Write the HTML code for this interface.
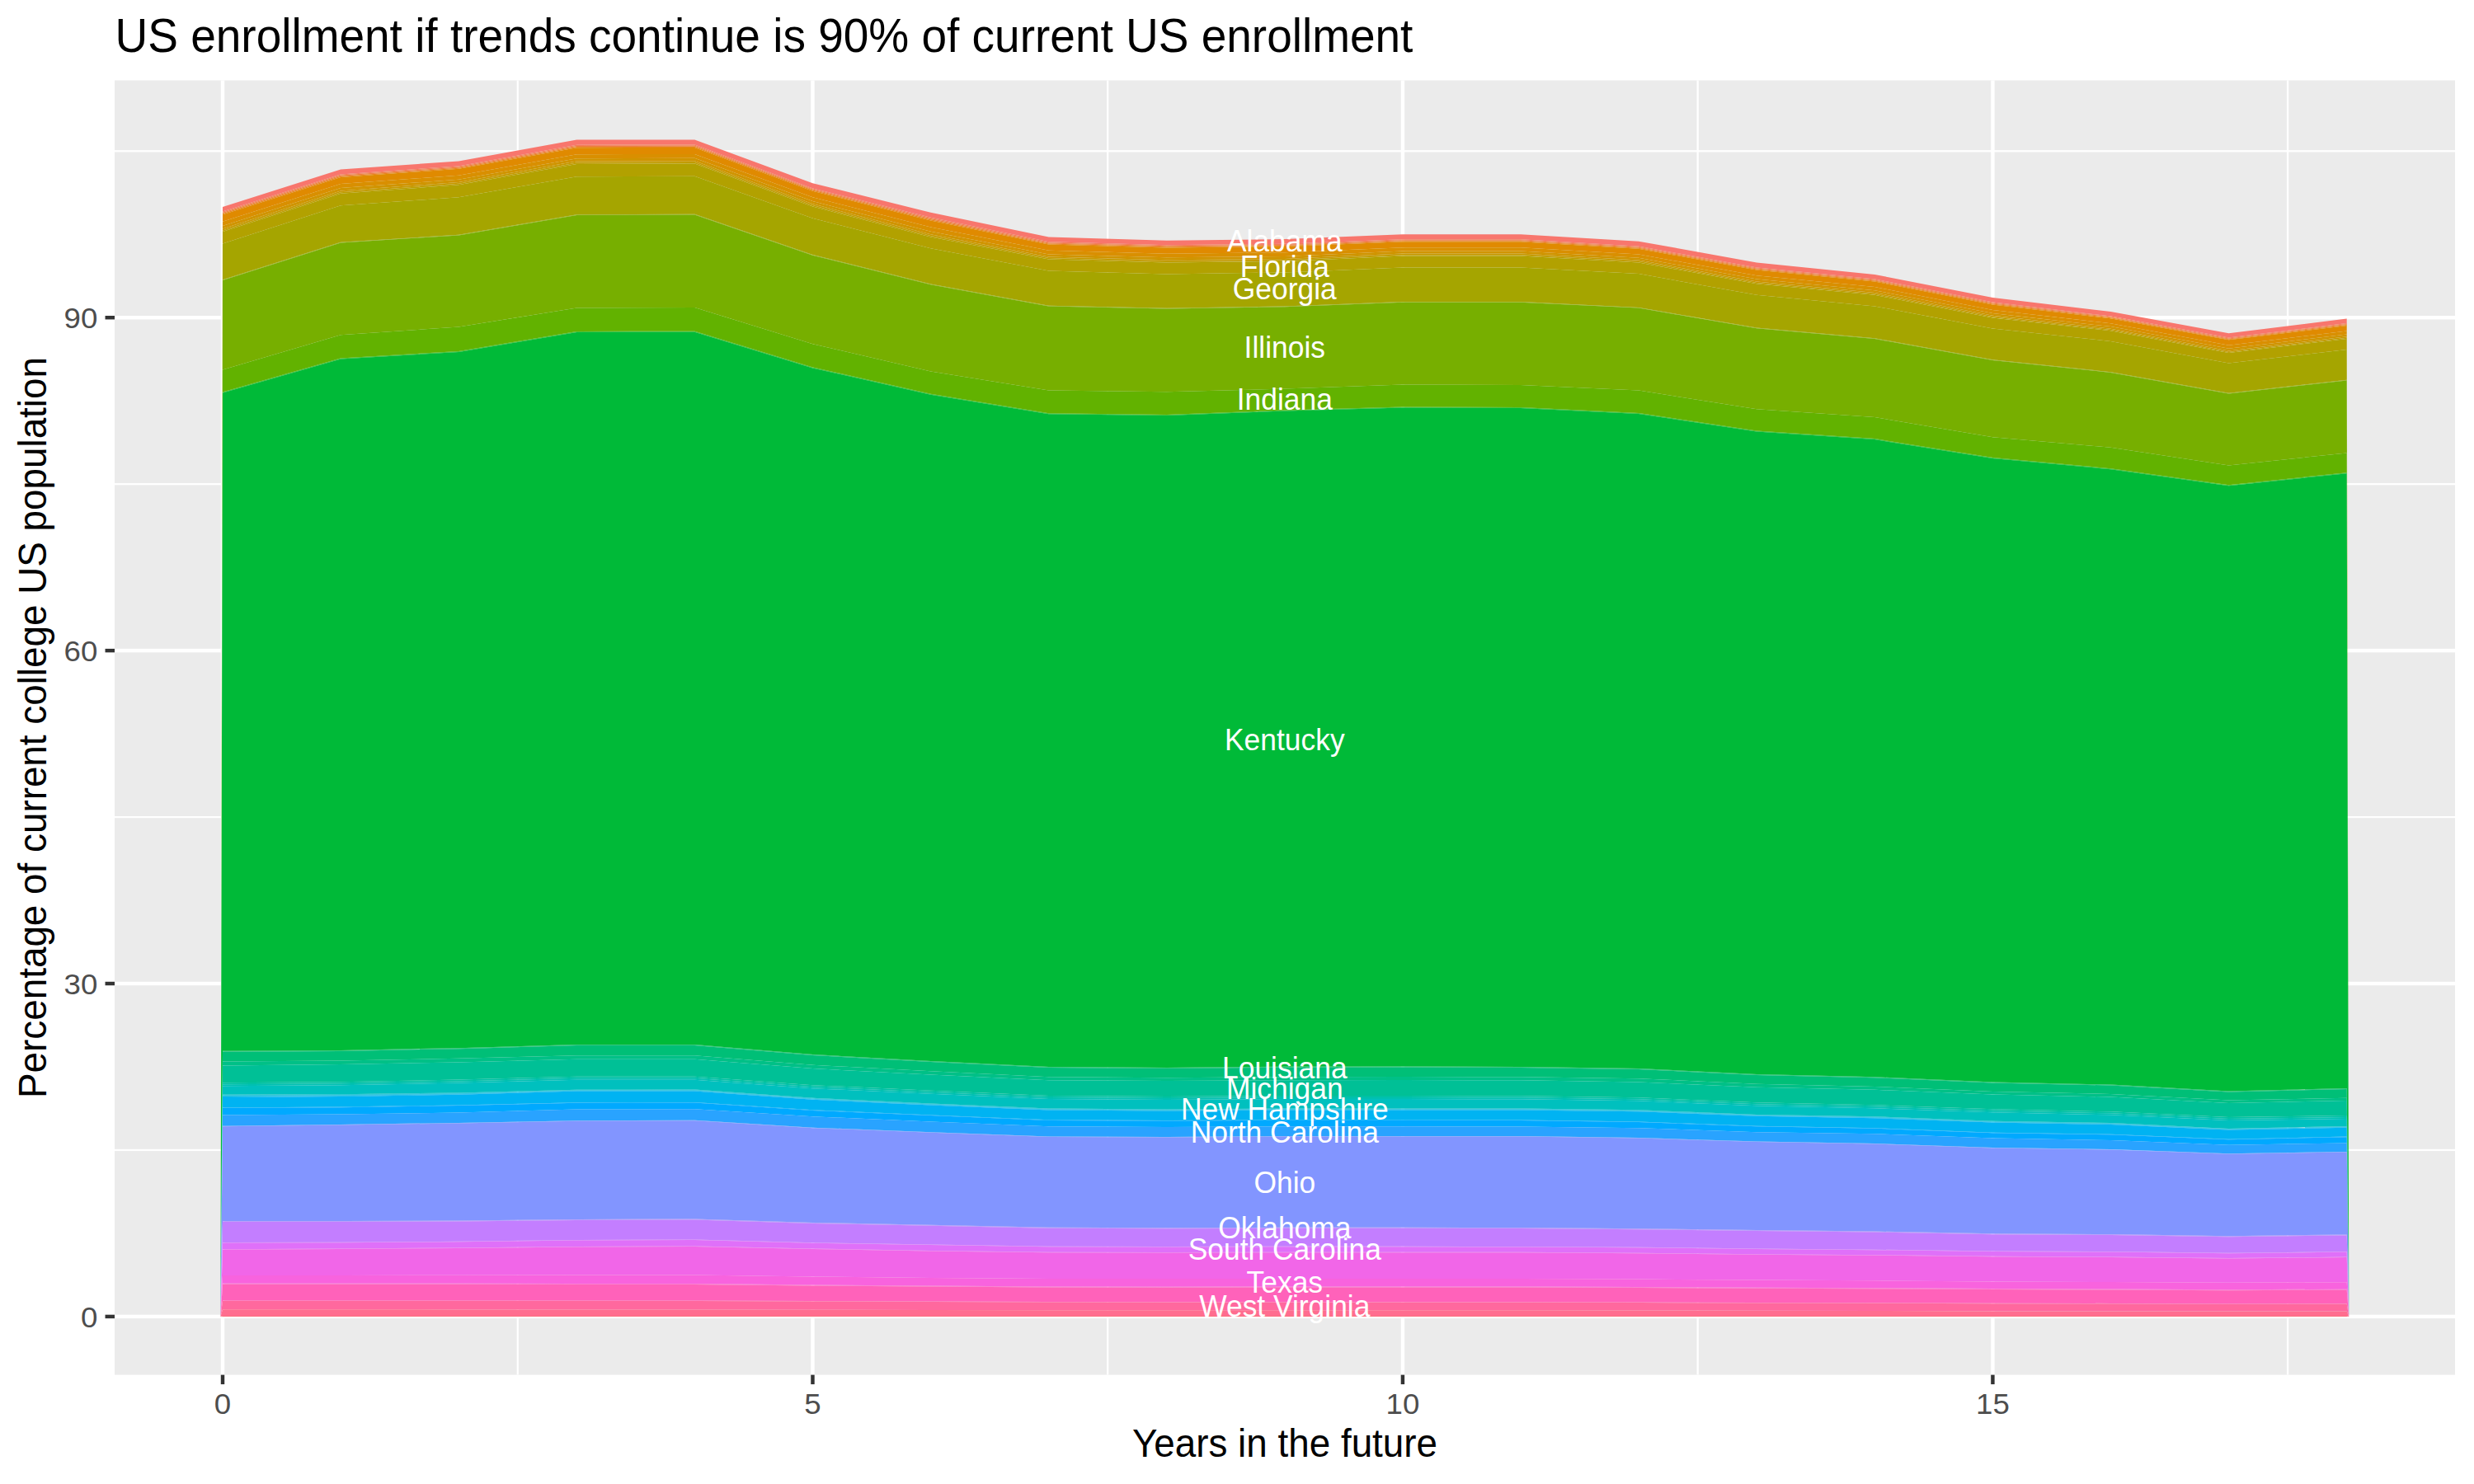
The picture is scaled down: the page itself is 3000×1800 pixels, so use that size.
<!DOCTYPE html>
<html lang="en"><head><meta charset="utf-8"><title>US enrollment if trends continue</title>
<style>html,body{margin:0;padding:0;background:#fff}body{width:3000px;height:1800px;overflow:hidden}svg{display:block}</style></head>
<body>
<svg width="3000" height="1800" viewBox="0 0 3000 1800">
<rect width="3000" height="1800" fill="#FFFFFF"/>
<rect x="139.0" y="97.5" width="2838.0" height="1570.1" fill="#EBEBEB"/>
<rect x="139.0" y="1393.85" width="2838.0" height="2.22" fill="#FFFFFF"/>
<rect x="139.0" y="989.96" width="2838.0" height="2.22" fill="#FFFFFF"/>
<rect x="139.0" y="586.07" width="2838.0" height="2.22" fill="#FFFFFF"/>
<rect x="139.0" y="182.18" width="2838.0" height="2.22" fill="#FFFFFF"/>
<rect x="626.63" y="97.5" width="2.22" height="1570.1" fill="#FFFFFF"/>
<rect x="1342.10" y="97.5" width="2.22" height="1570.1" fill="#FFFFFF"/>
<rect x="2057.57" y="97.5" width="2.22" height="1570.1" fill="#FFFFFF"/>
<rect x="2773.04" y="97.5" width="2.22" height="1570.1" fill="#FFFFFF"/>
<rect x="139.0" y="1594.68" width="2838.0" height="4.44" fill="#FFFFFF"/>
<rect x="139.0" y="1190.79" width="2838.0" height="4.44" fill="#FFFFFF"/>
<rect x="139.0" y="786.90" width="2838.0" height="4.44" fill="#FFFFFF"/>
<rect x="139.0" y="383.01" width="2838.0" height="4.44" fill="#FFFFFF"/>
<rect x="267.78" y="97.5" width="4.44" height="1570.1" fill="#FFFFFF"/>
<rect x="983.25" y="97.5" width="4.44" height="1570.1" fill="#FFFFFF"/>
<rect x="1698.72" y="97.5" width="4.44" height="1570.1" fill="#FFFFFF"/>
<rect x="2414.20" y="97.5" width="4.44" height="1570.1" fill="#FFFFFF"/>
<g shape-rendering="auto">
<polygon fill="#F8766D" points="267.4,1596.9 270.0,251.0 413.1,205.5 556.2,195.4 699.3,169.4 842.4,169.4 985.5,222.2 1128.6,257.8 1271.7,287.6 1414.8,291.7 1557.8,290.0 1700.9,284.2 1844.0,284.2 1987.1,292.7 2130.2,318.4 2273.3,333.0 2416.4,360.9 2559.5,378.0 2702.6,404.2 2845.7,386.6 2848.3,1596.9 2845.7,392.1 2702.6,409.5 2559.5,383.5 2416.4,366.5 2273.3,338.6 2130.2,324.5 1987.1,298.7 1844.0,290.3 1700.9,290.3 1557.8,295.8 1414.8,297.2 1271.7,293.3 1128.6,263.8 985.5,228.4 842.4,175.5 699.3,175.7 556.2,201.4 413.1,211.4 270.0,256.6"/>
<polygon fill="#F37B59" points="267.4,1596.9 270.0,256.6 413.1,211.4 556.2,201.4 699.3,175.7 842.4,175.5 985.5,228.4 1128.6,263.8 1271.7,293.3 1414.8,297.2 1557.8,295.8 1700.9,290.3 1844.0,290.3 1987.1,298.7 2130.2,324.5 2273.3,338.6 2416.4,366.5 2559.5,383.5 2702.6,409.5 2845.7,392.1 2848.3,1596.9 2845.7,393.0 2702.6,410.4 2559.5,384.4 2416.4,367.4 2273.3,339.6 2130.2,325.5 1987.1,299.7 1844.0,291.3 1700.9,291.3 1557.8,296.9 1414.8,298.3 1271.7,294.4 1128.6,265.0 985.5,229.5 842.4,176.7 699.3,176.9 556.2,202.5 413.1,212.6 270.0,257.8"/>
<polygon fill="#EE8042" points="267.4,1596.9 270.0,257.8 413.1,212.6 556.2,202.5 699.3,176.9 842.4,176.7 985.5,229.5 1128.6,265.0 1271.7,294.4 1414.8,298.3 1557.8,296.9 1700.9,291.3 1844.0,291.3 1987.1,299.7 2130.2,325.5 2273.3,339.6 2416.4,367.4 2559.5,384.4 2702.6,410.4 2845.7,393.0 2848.3,1596.9 2845.7,394.0 2702.6,411.4 2559.5,385.3 2416.4,368.4 2273.3,340.5 2130.2,326.5 1987.1,300.7 1844.0,292.3 1700.9,292.3 1557.8,297.9 1414.8,299.3 1271.7,295.4 1128.6,266.2 985.5,230.6 842.4,177.8 699.3,178.0 556.2,203.7 413.1,213.7 270.0,259.0"/>
<polygon fill="#E7851E" points="267.4,1596.9 270.0,259.0 413.1,213.7 556.2,203.7 699.3,178.0 842.4,177.8 985.5,230.6 1128.6,266.2 1271.7,295.4 1414.8,299.3 1557.8,297.9 1700.9,292.3 1844.0,292.3 1987.1,300.7 2130.2,326.5 2273.3,340.5 2416.4,368.4 2559.5,385.3 2702.6,411.4 2845.7,394.0 2848.3,1596.9 2845.7,394.9 2702.6,412.3 2559.5,386.2 2416.4,369.4 2273.3,341.5 2130.2,327.5 1987.1,301.7 1844.0,293.3 1700.9,293.3 1557.8,299.0 1414.8,300.4 1271.7,296.5 1128.6,267.4 985.5,231.7 842.4,178.9 699.3,179.2 556.2,204.8 413.1,214.9 270.0,260.3"/>
<polygon fill="#E08A00" points="267.4,1596.9 270.0,260.3 413.1,214.9 556.2,204.8 699.3,179.2 842.4,178.9 985.5,231.7 1128.6,267.4 1271.7,296.5 1414.8,300.4 1557.8,299.0 1700.9,293.3 1844.0,293.3 1987.1,301.7 2130.2,327.5 2273.3,341.5 2416.4,369.4 2559.5,386.2 2702.6,412.3 2845.7,394.9 2848.3,1596.9 2845.7,401.4 2702.6,418.7 2559.5,392.3 2416.4,375.9 2273.3,348.1 2130.2,334.3 1987.1,308.5 1844.0,300.3 1700.9,300.3 1557.8,306.3 1414.8,307.7 1271.7,303.8 1128.6,275.6 985.5,239.3 842.4,186.9 699.3,187.2 556.2,212.7 413.1,223.0 270.0,268.7"/>
<polygon fill="#D98F00" points="267.4,1596.9 270.0,268.7 413.1,223.0 556.2,212.7 699.3,187.2 842.4,186.9 985.5,239.3 1128.6,275.6 1271.7,303.8 1414.8,307.7 1557.8,306.3 1700.9,300.3 1844.0,300.3 1987.1,308.5 2130.2,334.3 2273.3,348.1 2416.4,375.9 2559.5,392.3 2702.6,418.7 2845.7,401.4 2848.3,1596.9 2845.7,405.4 2702.6,422.7 2559.5,396.1 2416.4,380.0 2273.3,352.2 2130.2,338.6 1987.1,312.7 1844.0,304.6 1700.9,304.6 1557.8,310.9 1414.8,312.3 1271.7,308.4 1128.6,280.7 985.5,244.1 842.4,191.8 699.3,192.2 556.2,217.7 413.1,228.0 270.0,273.9"/>
<polygon fill="#D09400" points="267.4,1596.9 270.0,273.9 413.1,228.0 556.2,217.7 699.3,192.2 842.4,191.8 985.5,244.1 1128.6,280.7 1271.7,308.4 1414.8,312.3 1557.8,310.9 1700.9,304.6 1844.0,304.6 1987.1,312.7 2130.2,338.6 2273.3,352.2 2416.4,380.0 2559.5,396.1 2702.6,422.7 2845.7,405.4 2848.3,1596.9 2845.7,408.2 2702.6,425.4 2559.5,398.7 2416.4,382.8 2273.3,355.0 2130.2,341.4 1987.1,315.6 1844.0,307.6 1700.9,307.6 1557.8,313.9 1414.8,315.3 1271.7,311.4 1128.6,284.2 985.5,247.3 842.4,195.2 699.3,195.6 556.2,221.0 413.1,231.4 270.0,277.5"/>
<polygon fill="#C79800" points="267.4,1596.9 270.0,277.5 413.1,231.4 556.2,221.0 699.3,195.6 842.4,195.2 985.5,247.3 1128.6,284.2 1271.7,311.4 1414.8,315.3 1557.8,313.9 1700.9,307.6 1844.0,307.6 1987.1,315.6 2130.2,341.4 2273.3,355.0 2416.4,382.8 2559.5,398.7 2702.6,425.4 2845.7,408.2 2848.3,1596.9 2845.7,409.7 2702.6,426.9 2559.5,400.1 2416.4,384.3 2273.3,356.6 2130.2,343.0 1987.1,317.1 1844.0,309.2 1700.9,309.2 1557.8,315.6 1414.8,317.0 1271.7,313.1 1128.6,286.1 985.5,249.1 842.4,197.0 699.3,197.5 556.2,222.8 413.1,233.3 270.0,279.4"/>
<polygon fill="#BD9D00" points="267.4,1596.9 270.0,279.4 413.1,233.3 556.2,222.8 699.3,197.5 842.4,197.0 985.5,249.1 1128.6,286.1 1271.7,313.1 1414.8,317.0 1557.8,315.6 1700.9,309.2 1844.0,309.2 1987.1,317.1 2130.2,343.0 2273.3,356.6 2416.4,384.3 2559.5,400.1 2702.6,426.9 2845.7,409.7 2848.3,1596.9 2845.7,410.9 2702.6,428.1 2559.5,401.2 2416.4,385.5 2273.3,357.8 2130.2,344.3 1987.1,318.4 1844.0,310.5 1700.9,310.5 1557.8,317.0 1414.8,318.4 1271.7,314.5 1128.6,287.6 985.5,250.5 842.4,198.5 699.3,199.0 556.2,224.3 413.1,234.8 270.0,281.0"/>
<polygon fill="#B2A100" points="267.4,1596.9 270.0,281.0 413.1,234.8 556.2,224.3 699.3,199.0 842.4,198.5 985.5,250.5 1128.6,287.6 1271.7,314.5 1414.8,318.4 1557.8,317.0 1700.9,310.5 1844.0,310.5 1987.1,318.4 2130.2,344.3 2273.3,357.8 2416.4,385.5 2559.5,401.2 2702.6,428.1 2845.7,410.9 2848.3,1596.9 2845.7,424.0 2702.6,440.4 2559.5,413.9 2416.4,398.5 2273.3,371.4 2130.2,357.8 1987.1,332.1 1844.0,324.6 1700.9,324.4 1557.8,330.4 1414.8,332.5 1271.7,328.5 1128.6,301.2 985.5,264.8 842.4,213.7 699.3,214.3 556.2,239.3 413.1,249.2 270.0,295.6"/>
<polygon fill="#A5A500" points="267.4,1596.9 270.0,295.6 413.1,249.2 556.2,239.3 699.3,214.3 842.4,213.7 985.5,264.8 1128.6,301.2 1271.7,328.5 1414.8,332.5 1557.8,330.4 1700.9,324.4 1844.0,324.6 1987.1,332.1 2130.2,357.8 2273.3,371.4 2416.4,398.5 2559.5,413.9 2702.6,440.4 2845.7,424.0 2848.3,1596.9 2845.7,460.7 2702.6,476.7 2559.5,451.2 2416.4,436.2 2273.3,410.3 2130.2,397.6 1987.1,372.9 1844.0,366.0 1700.9,366.0 1557.8,371.5 1414.8,373.7 1271.7,370.8 1128.6,344.5 985.5,309.0 842.4,259.7 699.3,260.3 556.2,284.7 413.1,293.8 270.0,339.3"/>
<polygon fill="#98A800" points="267.4,1596.9 270.0,339.3 413.1,293.8 556.2,284.7 699.3,260.3 842.4,259.7 985.5,309.0 1128.6,344.5 1271.7,370.8 1414.8,373.7 1557.8,371.5 1700.9,366.0 1844.0,366.0 1987.1,372.9 2130.2,397.6 2273.3,410.3 2416.4,436.2 2559.5,451.2 2702.6,476.7 2845.7,460.7 2848.3,1596.9 2845.7,461.0 2702.6,477.0 2559.5,451.5 2416.4,436.5 2273.3,410.6 2130.2,397.9 1987.1,373.2 1844.0,366.3 1700.9,366.3 1557.8,371.8 1414.8,374.0 1271.7,371.1 1128.6,344.8 985.5,309.3 842.4,260.0 699.3,260.6 556.2,285.0 413.1,294.1 270.0,339.6"/>
<polygon fill="#89AC00" points="267.4,1596.9 270.0,339.6 413.1,294.1 556.2,285.0 699.3,260.6 842.4,260.0 985.5,309.3 1128.6,344.8 1271.7,371.1 1414.8,374.0 1557.8,371.8 1700.9,366.3 1844.0,366.3 1987.1,373.2 2130.2,397.9 2273.3,410.6 2416.4,436.5 2559.5,451.5 2702.6,477.0 2845.7,461.0 2848.3,1596.9 2845.7,461.4 2702.6,477.4 2559.5,451.9 2416.4,436.9 2273.3,411.0 2130.2,398.3 1987.1,373.6 1844.0,366.7 1700.9,366.7 1557.8,372.2 1414.8,374.4 1271.7,371.5 1128.6,345.2 985.5,309.7 842.4,260.4 699.3,261.0 556.2,285.4 413.1,294.5 270.0,340.0"/>
<polygon fill="#77AF00" points="267.4,1596.9 270.0,340.0 413.1,294.5 556.2,285.4 699.3,261.0 842.4,260.4 985.5,309.7 1128.6,345.2 1271.7,371.5 1414.8,374.4 1557.8,372.2 1700.9,366.7 1844.0,366.7 1987.1,373.6 2130.2,398.3 2273.3,411.0 2416.4,436.9 2559.5,451.9 2702.6,477.4 2845.7,461.4 2848.3,1596.9 2845.7,549.4 2702.6,564.5 2559.5,542.7 2416.4,530.3 2273.3,506.0 2130.2,496.3 1987.1,473.6 1844.0,467.0 1700.9,466.6 1557.8,471.6 1414.8,475.2 1271.7,473.6 1128.6,450.4 985.5,417.3 842.4,373.0 699.3,373.4 556.2,396.6 413.1,406.3 270.0,448.5"/>
<polygon fill="#62B200" points="267.4,1596.9 270.0,448.5 413.1,406.3 556.2,396.6 699.3,373.4 842.4,373.0 985.5,417.3 1128.6,450.4 1271.7,473.6 1414.8,475.2 1557.8,471.6 1700.9,466.6 1844.0,467.0 1987.1,473.6 2130.2,496.3 2273.3,506.0 2416.4,530.3 2559.5,542.7 2702.6,564.5 2845.7,549.4 2848.3,1596.9 2845.7,573.2 2702.6,588.2 2559.5,568.2 2416.4,555.0 2273.3,532.1 2130.2,522.6 1987.1,501.0 1844.0,493.9 1700.9,493.5 1557.8,497.4 1414.8,503.0 1271.7,501.3 1128.6,477.7 985.5,445.5 842.4,401.7 699.3,402.0 556.2,425.9 413.1,434.4 270.0,475.6"/>
<polygon fill="#45B500" points="267.4,1596.9 270.0,475.6 413.1,434.4 556.2,425.9 699.3,402.0 842.4,401.7 985.5,445.5 1128.6,477.7 1271.7,501.3 1414.8,503.0 1557.8,497.4 1700.9,493.5 1844.0,493.9 1987.1,501.0 2130.2,522.6 2273.3,532.1 2416.4,555.0 2559.5,568.2 2702.6,588.2 2845.7,573.2 2848.3,1596.9 2845.7,573.7 2702.6,588.7 2559.5,568.7 2416.4,555.5 2273.3,532.6 2130.2,523.1 1987.1,501.5 1844.0,494.4 1700.9,494.0 1557.8,497.9 1414.8,503.5 1271.7,501.8 1128.6,478.2 985.5,446.0 842.4,402.2 699.3,402.5 556.2,426.4 413.1,434.9 270.0,476.1"/>
<polygon fill="#00B709" points="267.4,1596.9 270.0,476.1 413.1,434.9 556.2,426.4 699.3,402.5 842.4,402.2 985.5,446.0 1128.6,478.2 1271.7,501.8 1414.8,503.5 1557.8,497.9 1700.9,494.0 1844.0,494.4 1987.1,501.5 2130.2,523.1 2273.3,532.6 2416.4,555.5 2559.5,568.7 2702.6,588.7 2845.7,573.7 2848.3,1596.9 2845.7,574.2 2702.6,589.2 2559.5,569.2 2416.4,556.0 2273.3,533.1 2130.2,523.6 1987.1,502.0 1844.0,494.9 1700.9,494.5 1557.8,498.4 1414.8,504.0 1271.7,502.3 1128.6,478.7 985.5,446.5 842.4,402.7 699.3,403.0 556.2,426.9 413.1,435.4 270.0,476.6"/>
<polygon fill="#00BA38" points="267.4,1596.9 270.0,476.6 413.1,435.4 556.2,426.9 699.3,403.0 842.4,402.7 985.5,446.5 1128.6,478.7 1271.7,502.3 1414.8,504.0 1557.8,498.4 1700.9,494.5 1844.0,494.9 1987.1,502.0 2130.2,523.6 2273.3,533.1 2416.4,556.0 2559.5,569.2 2702.6,589.2 2845.7,574.2 2848.3,1596.9 2845.7,1319.9 2702.6,1323.5 2559.5,1315.5 2416.4,1312.6 2273.3,1306.3 2130.2,1302.9 1987.1,1296.1 1844.0,1293.9 1700.9,1293.4 1557.8,1293.8 1414.8,1295.0 1271.7,1294.0 1128.6,1286.9 985.5,1279.1 842.4,1267.0 699.3,1267.1 556.2,1271.2 413.1,1273.9 270.0,1274.7"/>
<polygon fill="#00BC51" points="267.4,1596.9 270.0,1274.7 413.1,1273.9 556.2,1271.2 699.3,1267.1 842.4,1267.0 985.5,1279.1 1128.6,1286.9 1271.7,1294.0 1414.8,1295.0 1557.8,1293.8 1700.9,1293.4 1844.0,1293.9 1987.1,1296.1 2130.2,1302.9 2273.3,1306.3 2416.4,1312.6 2559.5,1315.5 2702.6,1323.5 2845.7,1319.9 2848.3,1596.9 2845.7,1320.4 2702.6,1324.0 2559.5,1316.0 2416.4,1313.1 2273.3,1306.8 2130.2,1303.4 1987.1,1296.6 1844.0,1294.4 1700.9,1293.9 1557.8,1294.3 1414.8,1295.5 1271.7,1294.5 1128.6,1287.4 985.5,1279.6 842.4,1267.5 699.3,1267.6 556.2,1271.7 413.1,1274.4 270.0,1275.2"/>
<polygon fill="#00BD65" points="267.4,1596.9 270.0,1275.2 413.1,1274.4 556.2,1271.7 699.3,1267.6 842.4,1267.5 985.5,1279.6 1128.6,1287.4 1271.7,1294.5 1414.8,1295.5 1557.8,1294.3 1700.9,1293.9 1844.0,1294.4 1987.1,1296.6 2130.2,1303.4 2273.3,1306.8 2416.4,1313.1 2559.5,1316.0 2702.6,1324.0 2845.7,1320.4 2848.3,1596.9 2845.7,1320.9 2702.6,1324.5 2559.5,1316.5 2416.4,1313.6 2273.3,1307.3 2130.2,1303.9 1987.1,1297.1 1844.0,1294.9 1700.9,1294.4 1557.8,1294.8 1414.8,1296.0 1271.7,1295.0 1128.6,1287.9 985.5,1280.1 842.4,1268.0 699.3,1268.1 556.2,1272.2 413.1,1274.9 270.0,1275.7"/>
<polygon fill="#00BF77" points="267.4,1596.9 270.0,1275.7 413.1,1274.9 556.2,1272.2 699.3,1268.1 842.4,1268.0 985.5,1280.1 1128.6,1287.9 1271.7,1295.0 1414.8,1296.0 1557.8,1294.8 1700.9,1294.4 1844.0,1294.9 1987.1,1297.1 2130.2,1303.9 2273.3,1307.3 2416.4,1313.6 2559.5,1316.5 2702.6,1324.5 2845.7,1320.9 2848.3,1596.9 2845.7,1331.8 2702.6,1334.4 2559.5,1326.9 2416.4,1324.0 2273.3,1317.9 2130.2,1314.8 1987.1,1308.2 1844.0,1306.3 1700.9,1306.0 1557.8,1306.2 1414.8,1307.2 1271.7,1306.3 1128.6,1299.3 985.5,1291.7 842.4,1280.3 699.3,1280.3 556.2,1283.8 413.1,1286.4 270.0,1287.4"/>
<polygon fill="#00C087" points="267.4,1596.9 270.0,1287.4 413.1,1286.4 556.2,1283.8 699.3,1280.3 842.4,1280.3 985.5,1291.7 1128.6,1299.3 1271.7,1306.3 1414.8,1307.2 1557.8,1306.2 1700.9,1306.0 1844.0,1306.3 1987.1,1308.2 2130.2,1314.8 2273.3,1317.9 2416.4,1324.0 2559.5,1326.9 2702.6,1334.4 2845.7,1331.8 2848.3,1596.9 2845.7,1334.9 2702.6,1338.1 2559.5,1330.5 2416.4,1327.6 2273.3,1321.8 2130.2,1318.7 1987.1,1312.4 1844.0,1310.3 1700.9,1310.0 1557.8,1310.2 1414.8,1311.1 1271.7,1310.2 1128.6,1303.4 985.5,1296.1 842.4,1284.7 699.3,1284.7 556.2,1288.4 413.1,1291.0 270.0,1292.5"/>
<polygon fill="#00C096" points="267.4,1596.9 270.0,1292.5 413.1,1291.0 556.2,1288.4 699.3,1284.7 842.4,1284.7 985.5,1296.1 1128.6,1303.4 1271.7,1310.2 1414.8,1311.1 1557.8,1310.2 1700.9,1310.0 1844.0,1310.3 1987.1,1312.4 2130.2,1318.7 2273.3,1321.8 2416.4,1327.6 2559.5,1330.5 2702.6,1338.1 2845.7,1334.9 2848.3,1596.9 2845.7,1353.1 2702.6,1355.1 2559.5,1348.3 2416.4,1345.3 2273.3,1340.3 2130.2,1337.3 1987.1,1331.3 1844.0,1329.3 1700.9,1329.0 1557.8,1329.1 1414.8,1330.0 1271.7,1329.1 1128.6,1322.8 985.5,1316.2 842.4,1305.8 699.3,1305.7 556.2,1309.6 413.1,1312.3 270.0,1313.3"/>
<polygon fill="#00C1A4" points="267.4,1596.9 270.0,1313.3 413.1,1312.3 556.2,1309.6 699.3,1305.7 842.4,1305.8 985.5,1316.2 1128.6,1322.8 1271.7,1329.1 1414.8,1330.0 1557.8,1329.1 1700.9,1329.0 1844.0,1329.3 1987.1,1331.3 2130.2,1337.3 2273.3,1340.3 2416.4,1345.3 2559.5,1348.3 2702.6,1355.1 2845.7,1353.1 2848.3,1596.9 2845.7,1355.1 2702.6,1357.1 2559.5,1350.3 2416.4,1347.3 2273.3,1342.3 2130.2,1339.3 1987.1,1333.3 1844.0,1331.3 1700.9,1331.0 1557.8,1331.1 1414.8,1332.0 1271.7,1331.1 1128.6,1324.8 985.5,1318.2 842.4,1307.8 699.3,1307.7 556.2,1311.6 413.1,1314.3 270.0,1315.3"/>
<polygon fill="#00C0B2" points="267.4,1596.9 270.0,1315.3 413.1,1314.3 556.2,1311.6 699.3,1307.7 842.4,1307.8 985.5,1318.2 1128.6,1324.8 1271.7,1331.1 1414.8,1332.0 1557.8,1331.1 1700.9,1331.0 1844.0,1331.3 1987.1,1333.3 2130.2,1339.3 2273.3,1342.3 2416.4,1347.3 2559.5,1350.3 2702.6,1357.1 2845.7,1355.1 2848.3,1596.9 2845.7,1357.1 2702.6,1359.1 2559.5,1352.3 2416.4,1349.3 2273.3,1344.3 2130.2,1341.3 1987.1,1335.3 1844.0,1333.3 1700.9,1333.0 1557.8,1333.1 1414.8,1334.0 1271.7,1333.1 1128.6,1326.8 985.5,1320.2 842.4,1309.8 699.3,1309.7 556.2,1313.6 413.1,1316.3 270.0,1317.3"/>
<polygon fill="#00C0BE" points="267.4,1596.9 270.0,1317.3 413.1,1316.3 556.2,1313.6 699.3,1309.7 842.4,1309.8 985.5,1320.2 1128.6,1326.8 1271.7,1333.1 1414.8,1334.0 1557.8,1333.1 1700.9,1333.0 1844.0,1333.3 1987.1,1335.3 2130.2,1341.3 2273.3,1344.3 2416.4,1349.3 2559.5,1352.3 2702.6,1359.1 2845.7,1357.1 2848.3,1596.9 2845.7,1366.0 2702.6,1368.9 2559.5,1362.1 2416.4,1359.7 2273.3,1354.3 2130.2,1351.9 1987.1,1346.3 1844.0,1344.6 1700.9,1344.5 1557.8,1344.6 1414.8,1345.4 1271.7,1344.6 1128.6,1338.6 985.5,1331.8 842.4,1321.6 699.3,1321.7 556.2,1325.4 413.1,1327.2 270.0,1327.8"/>
<polygon fill="#00BECA" points="267.4,1596.9 270.0,1327.8 413.1,1327.2 556.2,1325.4 699.3,1321.7 842.4,1321.6 985.5,1331.8 1128.6,1338.6 1271.7,1344.6 1414.8,1345.4 1557.8,1344.6 1700.9,1344.5 1844.0,1344.6 1987.1,1346.3 2130.2,1351.9 2273.3,1354.3 2416.4,1359.7 2559.5,1362.1 2702.6,1368.9 2845.7,1366.0 2848.3,1596.9 2845.7,1366.4 2702.6,1369.3 2559.5,1362.6 2416.4,1360.2 2273.3,1354.8 2130.2,1352.4 1987.1,1346.8 1844.0,1345.1 1700.9,1345.0 1557.8,1345.1 1414.8,1345.9 1271.7,1345.1 1128.6,1339.1 985.5,1332.3 842.4,1322.1 699.3,1322.2 556.2,1326.0 413.1,1327.9 270.0,1328.6"/>
<polygon fill="#00BCD6" points="267.4,1596.9 270.0,1328.6 413.1,1327.9 556.2,1326.0 699.3,1322.2 842.4,1322.1 985.5,1332.3 1128.6,1339.1 1271.7,1345.1 1414.8,1345.9 1557.8,1345.1 1700.9,1345.0 1844.0,1345.1 1987.1,1346.8 2130.2,1352.4 2273.3,1354.8 2416.4,1360.2 2559.5,1362.6 2702.6,1369.3 2845.7,1366.4 2848.3,1596.9 2845.7,1366.8 2702.6,1369.8 2559.5,1363.0 2416.4,1360.7 2273.3,1355.3 2130.2,1352.8 1987.1,1347.3 1844.0,1345.6 1700.9,1345.5 1557.8,1345.6 1414.8,1346.4 1271.7,1345.6 1128.6,1339.5 985.5,1332.8 842.4,1322.5 699.3,1322.7 556.2,1326.6 413.1,1328.6 270.0,1329.3"/>
<polygon fill="#00BAE0" points="267.4,1596.9 270.0,1329.3 413.1,1328.6 556.2,1326.6 699.3,1322.7 842.4,1322.5 985.5,1332.8 1128.6,1339.5 1271.7,1345.6 1414.8,1346.4 1557.8,1345.6 1700.9,1345.5 1844.0,1345.6 1987.1,1347.3 2130.2,1352.8 2273.3,1355.3 2416.4,1360.7 2559.5,1363.0 2702.6,1369.8 2845.7,1366.8 2848.3,1596.9 2845.7,1367.3 2702.6,1370.2 2559.5,1363.5 2416.4,1361.1 2273.3,1355.8 2130.2,1353.3 1987.1,1347.8 1844.0,1346.1 1700.9,1346.0 1557.8,1346.1 1414.8,1346.9 1271.7,1346.1 1128.6,1340.0 985.5,1333.2 842.4,1323.0 699.3,1323.1 556.2,1327.2 413.1,1329.2 270.0,1330.1"/>
<polygon fill="#00B7E9" points="267.4,1596.9 270.0,1330.1 413.1,1329.2 556.2,1327.2 699.3,1323.1 842.4,1323.0 985.5,1333.2 1128.6,1340.0 1271.7,1346.1 1414.8,1346.9 1557.8,1346.1 1700.9,1346.0 1844.0,1346.1 1987.1,1347.8 2130.2,1353.3 2273.3,1355.8 2416.4,1361.1 2559.5,1363.5 2702.6,1370.2 2845.7,1367.3 2848.3,1596.9 2845.7,1367.7 2702.6,1370.6 2559.5,1364.0 2416.4,1361.6 2273.3,1356.3 2130.2,1353.8 1987.1,1348.3 1844.0,1346.6 1700.9,1346.5 1557.8,1346.6 1414.8,1347.4 1271.7,1346.6 1128.6,1340.5 985.5,1333.7 842.4,1323.5 699.3,1323.6 556.2,1327.8 413.1,1329.9 270.0,1330.9"/>
<polygon fill="#00B3F2" points="267.4,1596.9 270.0,1330.9 413.1,1329.9 556.2,1327.8 699.3,1323.6 842.4,1323.5 985.5,1333.7 1128.6,1340.5 1271.7,1346.6 1414.8,1347.4 1557.8,1346.6 1700.9,1346.5 1844.0,1346.6 1987.1,1348.3 2130.2,1353.8 2273.3,1356.3 2416.4,1361.6 2559.5,1364.0 2702.6,1370.6 2845.7,1367.7 2848.3,1596.9 2845.7,1378.6 2702.6,1381.7 2559.5,1375.7 2416.4,1373.7 2273.3,1368.2 2130.2,1365.7 1987.1,1360.4 1844.0,1358.5 1700.9,1358.3 1557.8,1358.3 1414.8,1359.0 1271.7,1358.3 1128.6,1352.4 985.5,1346.3 842.4,1336.9 699.3,1337.2 556.2,1340.4 413.1,1342.6 270.0,1343.4"/>
<polygon fill="#00AEF9" points="267.4,1596.9 270.0,1343.4 413.1,1342.6 556.2,1340.4 699.3,1337.2 842.4,1336.9 985.5,1346.3 1128.6,1352.4 1271.7,1358.3 1414.8,1359.0 1557.8,1358.3 1700.9,1358.3 1844.0,1358.5 1987.1,1360.4 2130.2,1365.7 2273.3,1368.2 2416.4,1373.7 2559.5,1375.7 2702.6,1381.7 2845.7,1378.6 2848.3,1596.9 2845.7,1379.2 2702.6,1382.3 2559.5,1376.3 2416.4,1374.3 2273.3,1368.8 2130.2,1366.3 1987.1,1361.0 1844.0,1359.1 1700.9,1358.9 1557.8,1358.9 1414.8,1359.6 1271.7,1358.9 1128.6,1353.0 985.5,1346.9 842.4,1337.5 699.3,1337.8 556.2,1341.0 413.1,1343.2 270.0,1344.0"/>
<polygon fill="#00A9FF" points="267.4,1596.9 270.0,1344.0 413.1,1343.2 556.2,1341.0 699.3,1337.8 842.4,1337.5 985.5,1346.9 1128.6,1353.0 1271.7,1358.9 1414.8,1359.6 1557.8,1358.9 1700.9,1358.9 1844.0,1359.1 1987.1,1361.0 2130.2,1366.3 2273.3,1368.8 2416.4,1374.3 2559.5,1376.3 2702.6,1382.3 2845.7,1379.2 2848.3,1596.9 2845.7,1386.4 2702.6,1388.8 2559.5,1383.0 2416.4,1380.5 2273.3,1375.2 2130.2,1373.3 1987.1,1368.2 1844.0,1366.5 1700.9,1366.3 1557.8,1366.3 1414.8,1367.0 1271.7,1366.3 1128.6,1360.4 985.5,1354.3 842.4,1345.3 699.3,1345.6 556.2,1349.5 413.1,1351.5 270.0,1352.5"/>
<polygon fill="#29A3FF" points="267.4,1596.9 270.0,1352.5 413.1,1351.5 556.2,1349.5 699.3,1345.6 842.4,1345.3 985.5,1354.3 1128.6,1360.4 1271.7,1366.3 1414.8,1367.0 1557.8,1366.3 1700.9,1366.3 1844.0,1366.5 1987.1,1368.2 2130.2,1373.3 2273.3,1375.2 2416.4,1380.5 2559.5,1383.0 2702.6,1388.8 2845.7,1386.4 2848.3,1596.9 2845.7,1397.0 2702.6,1399.2 2559.5,1393.9 2416.4,1391.9 2273.3,1387.1 2130.2,1384.6 1987.1,1380.0 1844.0,1378.1 1700.9,1378.0 1557.8,1378.1 1414.8,1379.0 1271.7,1378.4 1128.6,1373.2 985.5,1367.7 842.4,1358.7 699.3,1359.2 556.2,1361.9 413.1,1364.1 270.0,1365.8"/>
<polygon fill="#619CFF" points="267.4,1596.9 270.0,1365.8 413.1,1364.1 556.2,1361.9 699.3,1359.2 842.4,1358.7 985.5,1367.7 1128.6,1373.2 1271.7,1378.4 1414.8,1379.0 1557.8,1378.1 1700.9,1378.0 1844.0,1378.1 1987.1,1380.0 2130.2,1384.6 2273.3,1387.1 2416.4,1391.9 2559.5,1393.9 2702.6,1399.2 2845.7,1397.0 2848.3,1596.9 2845.7,1397.5 2702.6,1399.7 2559.5,1394.4 2416.4,1392.4 2273.3,1387.6 2130.2,1385.1 1987.1,1380.5 1844.0,1378.6 1700.9,1378.5 1557.8,1378.6 1414.8,1379.5 1271.7,1378.9 1128.6,1373.7 985.5,1368.2 842.4,1359.2 699.3,1359.7 556.2,1362.4 413.1,1364.6 270.0,1366.3"/>
<polygon fill="#8295FF" points="267.4,1596.9 270.0,1366.3 413.1,1364.6 556.2,1362.4 699.3,1359.7 842.4,1359.2 985.5,1368.2 1128.6,1373.7 1271.7,1378.9 1414.8,1379.5 1557.8,1378.6 1700.9,1378.5 1844.0,1378.6 1987.1,1380.5 2130.2,1385.1 2273.3,1387.6 2416.4,1392.4 2559.5,1394.4 2702.6,1399.7 2845.7,1397.5 2848.3,1596.9 2845.7,1497.5 2702.6,1499.2 2559.5,1497.0 2416.4,1496.3 2273.3,1493.6 2130.2,1492.1 1987.1,1490.2 1844.0,1489.0 1700.9,1488.8 1557.8,1488.8 1414.8,1489.2 1271.7,1488.8 1128.6,1485.8 985.5,1482.9 842.4,1478.5 699.3,1479.1 556.2,1480.5 413.1,1481.1 270.0,1481.0"/>
<polygon fill="#9C8DFF" points="267.4,1596.9 270.0,1481.0 413.1,1481.1 556.2,1480.5 699.3,1479.1 842.4,1478.5 985.5,1482.9 1128.6,1485.8 1271.7,1488.8 1414.8,1489.2 1557.8,1488.8 1700.9,1488.8 1844.0,1489.0 1987.1,1490.2 2130.2,1492.1 2273.3,1493.6 2416.4,1496.3 2559.5,1497.0 2702.6,1499.2 2845.7,1497.5 2848.3,1596.9 2845.7,1498.0 2702.6,1499.7 2559.5,1497.5 2416.4,1496.8 2273.3,1494.1 2130.2,1492.6 1987.1,1490.7 1844.0,1489.5 1700.9,1489.3 1557.8,1489.3 1414.8,1489.7 1271.7,1489.3 1128.6,1486.3 985.5,1483.4 842.4,1479.0 699.3,1479.6 556.2,1481.0 413.1,1481.6 270.0,1481.5"/>
<polygon fill="#B186FF" points="267.4,1596.9 270.0,1481.5 413.1,1481.6 556.2,1481.0 699.3,1479.6 842.4,1479.0 985.5,1483.4 1128.6,1486.3 1271.7,1489.3 1414.8,1489.7 1557.8,1489.3 1700.9,1489.3 1844.0,1489.5 1987.1,1490.7 2130.2,1492.6 2273.3,1494.1 2416.4,1496.8 2559.5,1497.5 2702.6,1499.7 2845.7,1498.0 2848.3,1596.9 2845.7,1498.5 2702.6,1500.2 2559.5,1498.0 2416.4,1497.3 2273.3,1494.6 2130.2,1493.1 1987.1,1491.2 1844.0,1490.0 1700.9,1489.8 1557.8,1489.8 1414.8,1490.2 1271.7,1489.8 1128.6,1486.8 985.5,1483.9 842.4,1479.5 699.3,1480.1 556.2,1481.5 413.1,1482.1 270.0,1482.0"/>
<polygon fill="#C37EFF" points="267.4,1596.9 270.0,1482.0 413.1,1482.1 556.2,1481.5 699.3,1480.1 842.4,1479.5 985.5,1483.9 1128.6,1486.8 1271.7,1489.8 1414.8,1490.2 1557.8,1489.8 1700.9,1489.8 1844.0,1490.0 1987.1,1491.2 2130.2,1493.1 2273.3,1494.6 2416.4,1497.3 2559.5,1498.0 2702.6,1500.2 2845.7,1498.5 2848.3,1596.9 2845.7,1518.1 2702.6,1519.8 2559.5,1518.1 2416.4,1517.6 2273.3,1515.7 2130.2,1514.5 1987.1,1512.8 1844.0,1512.0 1700.9,1511.8 1557.8,1511.8 1414.8,1512.1 1271.7,1511.8 1128.6,1509.6 985.5,1507.2 842.4,1503.5 699.3,1504.0 556.2,1505.8 413.1,1506.8 270.0,1507.0"/>
<polygon fill="#D277FF" points="267.4,1596.9 270.0,1507.0 413.1,1506.8 556.2,1505.8 699.3,1504.0 842.4,1503.5 985.5,1507.2 1128.6,1509.6 1271.7,1511.8 1414.8,1512.1 1557.8,1511.8 1700.9,1511.8 1844.0,1512.0 1987.1,1512.8 2130.2,1514.5 2273.3,1515.7 2416.4,1517.6 2559.5,1518.1 2702.6,1519.8 2845.7,1518.1 2848.3,1596.9 2845.7,1518.6 2702.6,1520.3 2559.5,1518.6 2416.4,1518.1 2273.3,1516.2 2130.2,1515.0 1987.1,1513.3 1844.0,1512.5 1700.9,1512.3 1557.8,1512.3 1414.8,1512.6 1271.7,1512.3 1128.6,1510.1 985.5,1507.7 842.4,1504.0 699.3,1504.5 556.2,1506.3 413.1,1507.3 270.0,1507.5"/>
<polygon fill="#DF70F9" points="267.4,1596.9 270.0,1507.5 413.1,1507.3 556.2,1506.3 699.3,1504.5 842.4,1504.0 985.5,1507.7 1128.6,1510.1 1271.7,1512.3 1414.8,1512.6 1557.8,1512.3 1700.9,1512.3 1844.0,1512.5 1987.1,1513.3 2130.2,1515.0 2273.3,1516.2 2416.4,1518.1 2559.5,1518.6 2702.6,1520.3 2845.7,1518.6 2848.3,1596.9 2845.7,1524.6 2702.6,1526.1 2559.5,1524.6 2416.4,1523.7 2273.3,1522.2 2130.2,1521.2 1987.1,1519.8 1844.0,1518.8 1700.9,1518.7 1557.8,1518.7 1414.8,1519.0 1271.7,1518.7 1128.6,1516.9 985.5,1514.5 842.4,1511.5 699.3,1512.1 556.2,1513.4 413.1,1514.5 270.0,1515.2"/>
<polygon fill="#E96AF1" points="267.4,1596.9 270.0,1515.2 413.1,1514.5 556.2,1513.4 699.3,1512.1 842.4,1511.5 985.5,1514.5 1128.6,1516.9 1271.7,1518.7 1414.8,1519.0 1557.8,1518.7 1700.9,1518.7 1844.0,1518.8 1987.1,1519.8 2130.2,1521.2 2273.3,1522.2 2416.4,1523.7 2559.5,1524.6 2702.6,1526.1 2845.7,1524.6 2848.3,1596.9 2845.7,1525.1 2702.6,1526.6 2559.5,1525.1 2416.4,1524.2 2273.3,1522.7 2130.2,1521.7 1987.1,1520.3 1844.0,1519.3 1700.9,1519.2 1557.8,1519.2 1414.8,1519.5 1271.7,1519.2 1128.6,1517.4 985.5,1515.0 842.4,1512.0 699.3,1512.6 556.2,1513.9 413.1,1515.0 270.0,1515.7"/>
<polygon fill="#F166E8" points="267.4,1596.9 270.0,1515.7 413.1,1515.0 556.2,1513.9 699.3,1512.6 842.4,1512.0 985.5,1515.0 1128.6,1517.4 1271.7,1519.2 1414.8,1519.5 1557.8,1519.2 1700.9,1519.2 1844.0,1519.3 1987.1,1520.3 2130.2,1521.7 2273.3,1522.7 2416.4,1524.2 2559.5,1525.1 2702.6,1526.6 2845.7,1525.1 2848.3,1596.9 2845.7,1555.2 2702.6,1555.7 2559.5,1555.0 2416.4,1554.5 2273.3,1553.3 2130.2,1552.5 1987.1,1551.6 1844.0,1550.9 1700.9,1550.9 1557.8,1550.9 1414.8,1551.1 1271.7,1550.9 1128.6,1549.9 985.5,1548.4 842.4,1546.5 699.3,1546.5 556.2,1546.7 413.1,1546.9 270.0,1547.1"/>
<polygon fill="#F863DE" points="267.4,1596.9 270.0,1547.1 413.1,1546.9 556.2,1546.7 699.3,1546.5 842.4,1546.5 985.5,1548.4 1128.6,1549.9 1271.7,1550.9 1414.8,1551.1 1557.8,1550.9 1700.9,1550.9 1844.0,1550.9 1987.1,1551.6 2130.2,1552.5 2273.3,1553.3 2416.4,1554.5 2559.5,1555.0 2702.6,1555.7 2845.7,1555.2 2848.3,1596.9 2845.7,1563.7 2702.6,1564.2 2559.5,1563.5 2416.4,1563.0 2273.3,1562.2 2130.2,1561.8 1987.1,1561.0 1844.0,1560.5 1700.9,1560.5 1557.8,1560.5 1414.8,1560.7 1271.7,1560.5 1128.6,1559.6 985.5,1558.6 842.4,1556.9 699.3,1556.9 556.2,1556.8 413.1,1556.8 270.0,1556.7"/>
<polygon fill="#FC61D3" points="267.4,1596.9 270.0,1556.7 413.1,1556.8 556.2,1556.8 699.3,1556.9 842.4,1556.9 985.5,1558.6 1128.6,1559.6 1271.7,1560.5 1414.8,1560.7 1557.8,1560.5 1700.9,1560.5 1844.0,1560.5 1987.1,1561.0 2130.2,1561.8 2273.3,1562.2 2416.4,1563.0 2559.5,1563.5 2702.6,1564.2 2845.7,1563.7 2848.3,1596.9 2845.7,1564.2 2702.6,1564.7 2559.5,1564.0 2416.4,1563.5 2273.3,1562.7 2130.2,1562.3 1987.1,1561.5 1844.0,1561.0 1700.9,1561.0 1557.8,1561.0 1414.8,1561.2 1271.7,1561.0 1128.6,1560.1 985.5,1559.1 842.4,1557.4 699.3,1557.4 556.2,1557.3 413.1,1557.3 270.0,1557.2"/>
<polygon fill="#FF61C7" points="267.4,1596.9 270.0,1557.2 413.1,1557.3 556.2,1557.3 699.3,1557.4 842.4,1557.4 985.5,1559.1 1128.6,1560.1 1271.7,1561.0 1414.8,1561.2 1557.8,1561.0 1700.9,1561.0 1844.0,1561.0 1987.1,1561.5 2130.2,1562.3 2273.3,1562.7 2416.4,1563.5 2559.5,1564.0 2702.6,1564.7 2845.7,1564.2 2848.3,1596.9 2845.7,1564.7 2702.6,1565.2 2559.5,1564.5 2416.4,1564.0 2273.3,1563.2 2130.2,1562.8 1987.1,1562.0 1844.0,1561.5 1700.9,1561.5 1557.8,1561.5 1414.8,1561.7 1271.7,1561.5 1128.6,1560.6 985.5,1559.6 842.4,1557.9 699.3,1557.9 556.2,1557.8 413.1,1557.8 270.0,1557.7"/>
<polygon fill="#FF62BA" points="267.4,1596.9 270.0,1557.7 413.1,1557.8 556.2,1557.8 699.3,1557.9 842.4,1557.9 985.5,1559.6 1128.6,1560.6 1271.7,1561.5 1414.8,1561.7 1557.8,1561.5 1700.9,1561.5 1844.0,1561.5 1987.1,1562.0 2130.2,1562.8 2273.3,1563.2 2416.4,1564.0 2559.5,1564.5 2702.6,1565.2 2845.7,1564.7 2848.3,1596.9 2845.7,1581.2 2702.6,1581.4 2559.5,1580.9 2416.4,1580.7 2273.3,1580.2 2130.2,1580.0 1987.1,1579.5 1844.0,1579.2 1700.9,1579.2 1557.8,1579.2 1414.8,1579.2 1271.7,1579.1 1128.6,1578.5 985.5,1578.0 842.4,1577.5 699.3,1577.5 556.2,1577.5 413.1,1577.4 270.0,1577.4"/>
<polygon fill="#FF65AD" points="267.4,1596.9 270.0,1577.4 413.1,1577.4 556.2,1577.5 699.3,1577.5 842.4,1577.5 985.5,1578.0 1128.6,1578.5 1271.7,1579.1 1414.8,1579.2 1557.8,1579.2 1700.9,1579.2 1844.0,1579.2 1987.1,1579.5 2130.2,1580.0 2273.3,1580.2 2416.4,1580.7 2559.5,1580.9 2702.6,1581.4 2845.7,1581.2 2848.3,1596.9 2845.7,1581.7 2702.6,1581.9 2559.5,1581.4 2416.4,1581.2 2273.3,1580.7 2130.2,1580.5 1987.1,1580.0 1844.0,1579.7 1700.9,1579.7 1557.8,1579.7 1414.8,1579.7 1271.7,1579.6 1128.6,1579.0 985.5,1578.5 842.4,1578.0 699.3,1578.0 556.2,1578.0 413.1,1577.9 270.0,1577.9"/>
<polygon fill="#FF689E" points="267.4,1596.9 270.0,1577.9 413.1,1577.9 556.2,1578.0 699.3,1578.0 842.4,1578.0 985.5,1578.5 1128.6,1579.0 1271.7,1579.6 1414.8,1579.7 1557.8,1579.7 1700.9,1579.7 1844.0,1579.7 1987.1,1580.0 2130.2,1580.5 2273.3,1580.7 2416.4,1581.2 2559.5,1581.4 2702.6,1581.9 2845.7,1581.7 2848.3,1596.9 2845.7,1590.6 2702.6,1590.6 2559.5,1590.4 2416.4,1590.4 2273.3,1589.9 2130.2,1589.7 1987.1,1589.4 1844.0,1589.2 1700.9,1589.2 1557.8,1589.2 1414.8,1589.2 1271.7,1589.2 1128.6,1588.9 985.5,1588.7 842.4,1588.4 699.3,1588.4 556.2,1588.4 413.1,1588.3 270.0,1588.3"/>
<polygon fill="#FF6D8F" points="267.4,1596.9 270.0,1588.3 413.1,1588.3 556.2,1588.4 699.3,1588.4 842.4,1588.4 985.5,1588.7 1128.6,1588.9 1271.7,1589.2 1414.8,1589.2 1557.8,1589.2 1700.9,1589.2 1844.0,1589.2 1987.1,1589.4 2130.2,1589.7 2273.3,1589.9 2416.4,1590.4 2559.5,1590.4 2702.6,1590.6 2845.7,1590.6 2848.3,1596.9 2845.7,1595.9 2702.6,1595.9 2559.5,1595.9 2416.4,1595.9 2273.3,1595.9 2130.2,1595.9 1987.1,1595.9 1844.0,1595.9 1700.9,1595.9 1557.8,1595.9 1414.8,1595.9 1271.7,1595.9 1128.6,1595.9 985.5,1595.9 842.4,1595.9 699.3,1595.9 556.2,1595.9 413.1,1595.9 270.0,1595.9"/>
<polygon fill="#FC717F" points="267.4,1596.9 270.0,1595.9 413.1,1595.9 556.2,1595.9 699.3,1595.9 842.4,1595.9 985.5,1595.9 1128.6,1595.9 1271.7,1595.9 1414.8,1595.9 1557.8,1595.9 1700.9,1595.9 1844.0,1595.9 1987.1,1595.9 2130.2,1595.9 2273.3,1595.9 2416.4,1595.9 2559.5,1595.9 2702.6,1595.9 2845.7,1595.9 2848.3,1596.9 2845.7,1596.9 2702.6,1596.9 2559.5,1596.9 2416.4,1596.9 2273.3,1596.9 2130.2,1596.9 1987.1,1596.9 1844.0,1596.9 1700.9,1596.9 1557.8,1596.9 1414.8,1596.9 1271.7,1596.9 1128.6,1596.9 985.5,1596.9 842.4,1596.9 699.3,1596.9 556.2,1596.9 413.1,1596.9 270.0,1596.9"/>
</g>
<g font-family="'Liberation Sans', Arial, Helvetica, sans-serif" font-size="35.4" fill="#FFFFFF" text-anchor="middle">
<text transform="translate(1557.8,305.0) scale(1,1.02)">Alabama</text>
<text transform="translate(1557.8,335.8) scale(1,1.02)">Florida</text>
<text transform="translate(1557.8,363.4) scale(1,1.02)">Georgia</text>
<text transform="translate(1557.8,434.0) scale(1,1.02)">Illinois</text>
<text transform="translate(1557.8,497.1) scale(1,1.02)">Indiana</text>
<text transform="translate(1557.8,910.1) scale(1,1.02)">Kentucky</text>
<text transform="translate(1557.8,1307.5) scale(1,1.02)">Louisiana</text>
<text transform="translate(1557.8,1332.6) scale(1,1.02)">Michigan</text>
<text transform="translate(1557.8,1358.3) scale(1,1.02)">New Hampshire</text>
<text transform="translate(1557.8,1386.0) scale(1,1.02)">North Carolina</text>
<text transform="translate(1557.8,1447.1) scale(1,1.02)">Ohio</text>
<text transform="translate(1557.8,1502.3) scale(1,1.02)">Oklahoma</text>
<text transform="translate(1557.8,1528.2) scale(1,1.02)">South Carolina</text>
<text transform="translate(1557.8,1568.0) scale(1,1.02)">Texas</text>
<text transform="translate(1557.8,1596.6) scale(1,1.02)">West Virginia</text>
</g>
<rect x="127.54" y="1594.68" width="11.46" height="4.44" fill="#333333"/>
<rect x="127.54" y="1190.79" width="11.46" height="4.44" fill="#333333"/>
<rect x="127.54" y="786.90" width="11.46" height="4.44" fill="#333333"/>
<rect x="127.54" y="383.01" width="11.46" height="4.44" fill="#333333"/>
<rect x="267.78" y="1667.60" width="4.44" height="11.46" fill="#333333"/>
<rect x="983.25" y="1667.60" width="4.44" height="11.46" fill="#333333"/>
<rect x="1698.72" y="1667.60" width="4.44" height="11.46" fill="#333333"/>
<rect x="2414.20" y="1667.60" width="4.44" height="11.46" fill="#333333"/>
<g font-family="'Liberation Sans', Arial, Helvetica, sans-serif" font-size="36.67" fill="#4D4D4D">
<text transform="translate(118.4,1609.7) scale(1,0.97)" text-anchor="end">0</text>
<text transform="translate(118.4,1205.8) scale(1,0.97)" text-anchor="end">30</text>
<text transform="translate(118.4,801.9) scale(1,0.97)" text-anchor="end">60</text>
<text transform="translate(118.4,398.0) scale(1,0.97)" text-anchor="end">90</text>
<text transform="translate(270.0,1715.3) scale(1,0.97)" text-anchor="middle">0</text>
<text transform="translate(985.5,1715.3) scale(1,0.97)" text-anchor="middle">5</text>
<text transform="translate(1700.9,1715.3) scale(1,0.97)" text-anchor="middle">10</text>
<text transform="translate(2416.4,1715.3) scale(1,0.97)" text-anchor="middle">15</text>
</g>
<g font-family="'Liberation Sans', Arial, Helvetica, sans-serif" fill="#000000">
<text transform="translate(139.5,63.3) scale(1,1.05)" font-size="55">US enrollment if trends continue is 90% of current US enrollment</text>
<text transform="translate(1558.0,1767.4) scale(1,1.05)" font-size="45.83" text-anchor="middle">Years in the future</text>
<text transform="translate(56,882.5) rotate(-90) scale(1,1.05)" font-size="45.83" text-anchor="middle">Percentage of current college US population</text>
</g>
</svg>
</body></html>
